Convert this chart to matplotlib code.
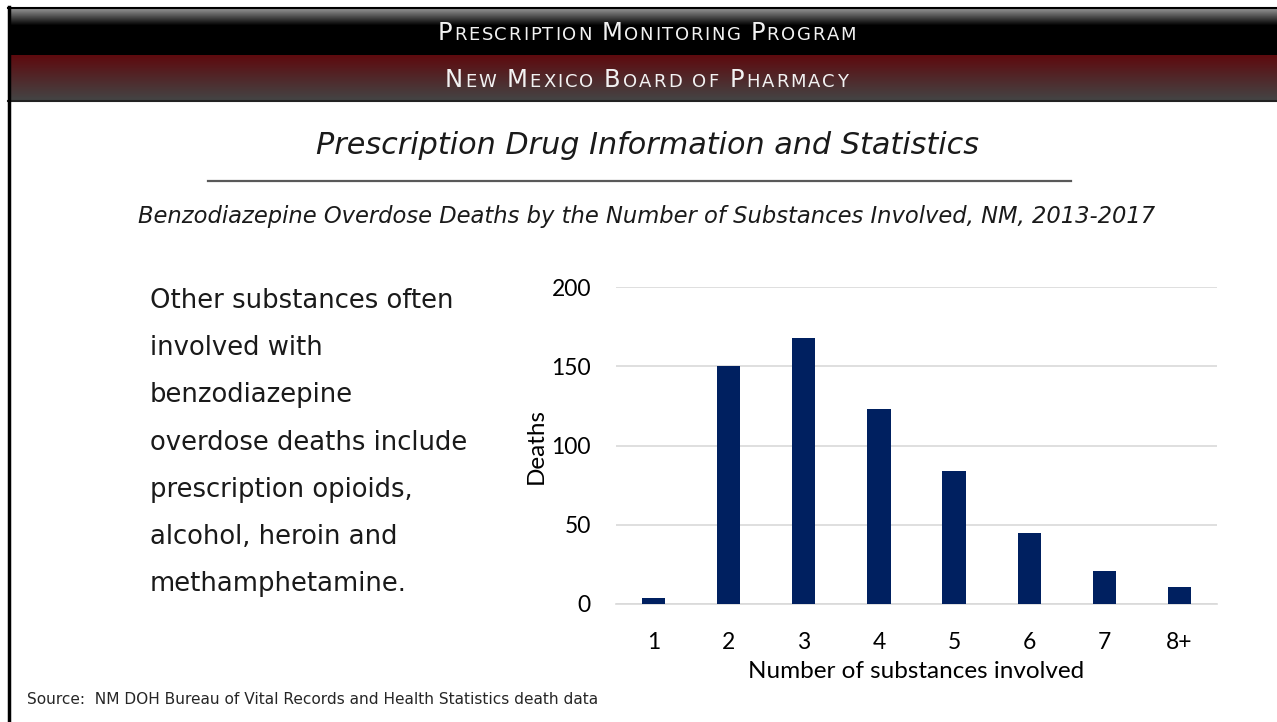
import matplotlib
matplotlib.use('Agg')
import matplotlib.pyplot as plt
import numpy as np

# data
categories = ['1', '2', '3', '4', '5', '6', '7', '8+']
deaths = [4, 150, 168, 123, 84, 45, 21, 11]
y_ticks = [0, 50, 100, 150, 200]

header_top = 'Prescription Monitoring Program'
header_bottom = 'New Mexico Board of Pharmacy'
title = 'Prescription Drug Information and Statistics'
subtitle = 'Benzodiazepine Overdose Deaths by the Number of Substances Involved, NM, 2013-2017'
side_lines = ['Other substances often', 'involved with', 'benzodiazepine',
              'overdose deaths include', 'prescription opioids,',
              'alcohol, heroin and', 'methamphetamine.']
source = 'Source:  NM DOH Bureau of Vital Records and Health Statistics death data'

W, H = 1277, 722
BAR = '#002060'
SLIDE_FONT = 'DejaVu Sans'
CHART_FONT = 'Lato'

fig = plt.figure(figsize=(W / 100, H / 100), dpi=100)
bg = fig.add_axes([0, 0, 1, 1])
bg.set_xlim(0, W)
bg.set_ylim(H, 0)
bg.axis('off')


def gradient(ax, x0, x1, y0, y1, c_top, c_bot, stops=None):
    n = 64
    t = np.linspace(0, 1, n)
    if stops is not None:
        t = np.clip((t - stops[0]) / (stops[1] - stops[0]), 0, 1)
    a = np.array(matplotlib.colors.to_rgb(c_top))
    b = np.array(matplotlib.colors.to_rgb(c_bot))
    img = a[None, :] * (1 - t[:, None]) + b[None, :] * t[:, None]
    ax.imshow(img[:, None, :], extent=(x0, x1, y1, y0), aspect='auto',
              interpolation='bilinear', zorder=1)


# header bands
gradient(bg, 8, W, 7, 55, '#8a8a8a', '#000000', stops=(0.05, 0.38))
gradient(bg, 8, W, 55, 100, '#5e0a0e', '#444444')
bg.plot([8, W], [100.5, 100.5], color='#222222', lw=1.5, zorder=2)
bg.plot([9, 9], [7, H], color='#000000', lw=2.5, zorder=3)
bg.plot([8, W], [7.5, 7.5], color='#000000', lw=1.5, zorder=3)

renderer = fig.canvas.get_renderer()


def small_caps(ax, text, x0, x1, base, big, small, color):
    # fake small caps, one glyph at a time, spread to fill x0..x1
    glyphs = []
    for ch in text:
        size = big if ch.isupper() else small
        t = ax.text(0, base, ch.upper(), fontsize=size, color=color,
                    family=SLIDE_FONT, va='baseline', ha='left', zorder=5)
        w = t.get_window_extent(renderer).width if ch != ' ' else small * 0.5
        glyphs.append((t, w))
    total = sum(w for _, w in glyphs)
    track = (x1 - x0 - total) / (len(glyphs) - 1)
    x = x0
    for t, w in glyphs:
        t.set_x(x)
        x += w + track


small_caps(bg, header_top, 438, 856, 40, 17.5, 13, '#f2f2f2')
small_caps(bg, header_bottom, 445, 848, 87, 17.5, 13, '#f2f2f2')

# titles
bg.text(647, 146, title, fontsize=21.8, style='italic', family=SLIDE_FONT,
        color='#1a1a1a', ha='center', va='center')
bg.plot([208, 1071], [181, 181], color='#595959', lw=1.6)
bg.text(647, 217, subtitle, fontsize=16.3, style='italic', family=SLIDE_FONT,
        color='#1a1a1a', ha='center', va='center')

# side text
for i, line in enumerate(side_lines):
    bg.text(150, 301 + i * 47.2, line, fontsize=18.6, family=SLIDE_FONT,
            color='#1a1a1a', ha='left', va='center')

bg.text(27, 700, source, fontsize=11.1, family=SLIDE_FONT, color='#262626',
        ha='left', va='center')

# chart
ax = fig.add_axes([616 / W, 1 - 604 / H, 601 / W, (604 - 287) / H])
x = np.arange(len(categories))
ax.bar(x, deaths, width=0.31, color=BAR, zorder=3)
ax.set_xlim(-0.5, len(categories) - 0.5)
ax.set_ylim(0, 200)
ax.set_yticks(y_ticks)
ax.set_xticks(x)
ax.set_xticklabels(categories)
ax.yaxis.grid(True, color='#d9d9d9', lw=1.2, zorder=0)
ax.set_axisbelow(True)
for side in ['top', 'right', 'left']:
    ax.spines[side].set_visible(False)
ax.spines['bottom'].set_color('#d9d9d9')
ax.spines['bottom'].set_linewidth(1.2)
ax.tick_params(length=0, labelsize=16.5, labelcolor='#000000')
ax.tick_params(axis='y', pad=18)
ax.tick_params(axis='x', pad=20)
ax.patch.set_alpha(0)
for lab in ax.get_xticklabels() + ax.get_yticklabels():
    lab.set_family(CHART_FONT)
ax.set_xlabel('Number of substances involved', fontsize=17.5, family=CHART_FONT,
              labelpad=6)
ax.set_ylabel('Deaths', fontsize=17.5, family=CHART_FONT, labelpad=3)

fig.savefig('out.png', dpi=100)
